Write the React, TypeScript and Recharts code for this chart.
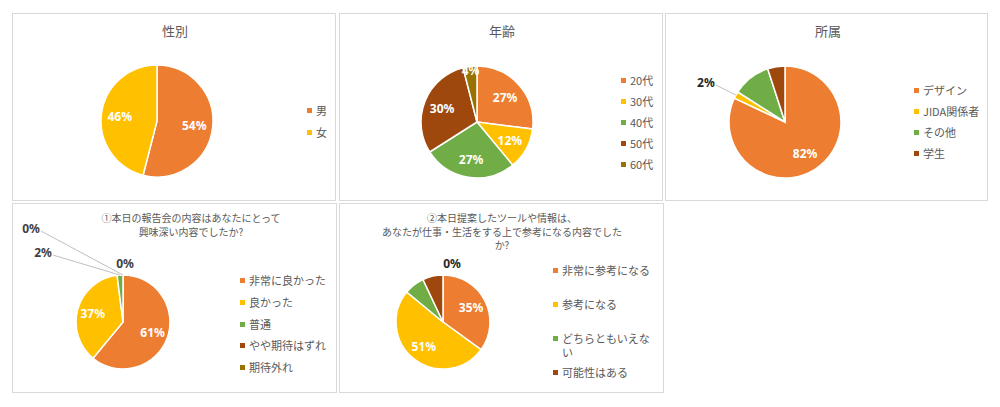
import { PieChart, Pie, Cell, Legend } from "recharts";

const COLORS = ["#ED7D31", "#FFC000", "#70AD47", "#9E480E", "#997300"];
const JP = "'Noto Sans CJK JP', 'Noto Sans', sans-serif";
const RADIAN = Math.PI / 180;

// 性別
const genderNames = ["男", "女"];
const genderValues = [54, 46];

// 年齢
const ageNames = ["20代", "30代", "40代", "50代", "60代"];
const ageValues = [27, 12, 27, 30, 4];

// 所属
const affiliationNames = ["デザイン", "JIDA関係者", "その他", "学生"];
const affiliationValues = [82, 2, 11, 5];

// ①
const interestNames = ["非常に良かった", "良かった", "普通", "やや期待はずれ", "期待外れ"];
const interestValues = [61, 37, 2, 0, 0];

// ② (last entry has no legend item)
const usefulNames = ["非常に参考になる", "参考になる", "どちらともいえない", "可能性はある", ""];
const usefulValues = [35, 51, 7, 7, 0];

type Outside = { dx: number; dy: number; line: boolean; color: string };
type LabelPos = "in" | "edge" | Outside | null;

const toRows = (names: string[], values: number[]) =>
  names.map((name, i) => ({ name, value: values[i] }));

function makeLabel(layout: LabelPos[]) {
  return (props: any) => {
    const { cx, cy, midAngle, outerRadius, value, index } = props;
    const pos = layout[index];
    if (!pos) return null;
    const text = `${value}%`;
    const cos = Math.cos(-midAngle * RADIAN);
    const sin = Math.sin(-midAngle * RADIAN);
    if (pos === "in" || pos === "edge") {
      const r = outerRadius * (pos === "in" ? 0.67 : 0.92);
      return (
        <text x={cx + r * cos} y={cy + r * sin} fill="#fff" textAnchor="middle"
          dominantBaseline="central" fontSize={12} fontWeight="bold" fontFamily="'Noto Sans', sans-serif">
          {text}
        </text>
      );
    }
    const ex = cx + outerRadius * cos;
    const ey = cy + outerRadius * sin;
    const tx = ex + pos.dx;
    const ty = ey + pos.dy;
    return (
      <g>
        {pos.line && <line x1={tx + 10} y1={ty + 3} x2={ex} y2={ey} stroke="#bfbfbf" strokeWidth={1} />}
        <text x={tx} y={ty} fill={pos.color} textAnchor="middle" dominantBaseline="central"
          fontSize={12} fontWeight="bold" fontFamily="'Noto Sans', sans-serif">
          {text}
        </text>
      </g>
    );
  };
}

function legendContent(names: string[], slot: number, textWidth?: number) {
  return () => (
    <div>
      {names.map((n, i) =>
        n ? (
          <div key={i} style={{ height: slot, display: "flex", alignItems: "flex-start" }}>
            <span style={{ width: 5, height: 5, background: COLORS[i], marginTop: 5, marginRight: 4, flexShrink: 0 }} />
            <span style={{ lineHeight: "14px", width: textWidth }}>{n}</span>
          </div>
        ) : null
      )}
    </div>
  );
}

interface PanelProps {
  left: number; top: number; width: number; height: number;
  title: string[]; titleSize: number; titleX: number; titleTop: number; titleLine: number;
  names: string[]; values: number[]; labels: LabelPos[];
  cx: number; cy: number; r: number;
  legendLeft: number; legendTop: number; slot: number; textWidth?: number;
}

function Panel(p: PanelProps) {
  return (
    <div style={{ position: "absolute", left: p.left, top: p.top, width: p.width, height: p.height,
      border: "1px solid #d9d9d9", boxSizing: "border-box", background: "#fff" }}>
      <div style={{ position: "absolute", left: p.titleX - 160, width: 320, top: p.titleTop, textAlign: "center",
        fontFamily: JP, fontSize: p.titleSize, lineHeight: `${p.titleLine}px`, color: "#595959", zIndex: 2 }}>
        {p.title.map((t, i) => <div key={i}>{t}</div>)}
      </div>
      <div style={{ position: "absolute", left: -1, top: -1 }}>
        <PieChart width={p.width} height={p.height} margin={{ top: 0, right: 0, bottom: 0, left: 0 }}>
          <Pie data={toRows(p.names, p.values)} dataKey="value" nameKey="name" cx={p.cx} cy={p.cy}
            outerRadius={p.r} startAngle={90} endAngle={-270} stroke="#fff" strokeWidth={1.5}
            label={makeLabel(p.labels)} labelLine={false} isAnimationActive={false}>
            {p.values.map((_, i) => <Cell key={i} fill={COLORS[i]} />)}
          </Pie>
          <Legend layout="vertical" align="center" verticalAlign="middle"
            content={legendContent(p.names, p.slot, p.textWidth)}
            wrapperStyle={{ left: p.legendLeft, top: p.legendTop, width: 110, fontFamily: JP, fontSize: 11, color: "#595959" }} />
        </PieChart>
      </div>
    </div>
  );
}

export default function App() {
  return (
    <div style={{ position: "absolute", left: 0, top: 0, width: 1000, height: 407, background: "#fff" }}>
      <Panel left={12} top={13} width={324} height={188} title={["性別"]} titleSize={13} titleX={162}
        titleTop={8} titleLine={18} names={genderNames} values={genderValues} labels={["in", "in"]}
        cx={145} cy={108} r={56} legendLeft={295} legendTop={90} slot={22} />
      <Panel left={339} top={13} width={324} height={188} title={["年齢"]} titleSize={13} titleX={162}
        titleTop={8} titleLine={18} names={ageNames} values={ageValues} labels={["in", "in", "in", "in", "edge"]}
        cx={138} cy={109} r={56} legendLeft={282} legendTop={60} slot={21} />
      <Panel left={665} top={13} width={323} height={188} title={["所属"]} titleSize={13} titleX={162}
        titleTop={8} titleLine={18} names={affiliationNames} values={affiliationValues}
        labels={["in", { dx: -30, dy: -13, line: true, color: "#262626" }, null, null]}
        cx={120} cy={109} r={56} legendLeft={249} legendTop={70} slot={21} />
      <Panel left={12} top={203} width={325} height={190}
        title={["①本日の報告会の内容はあなたにとって", "興味深い内容でしたか?"]} titleSize={10} titleX={178}
        titleTop={7} titleLine={13.5} names={interestNames} values={interestValues}
        labels={["in", "in",
          { dx: -77, dy: -23, line: true, color: "#404040" },
          { dx: -92, dy: -47, line: true, color: "#404040" },
          { dx: 2, dy: -12, line: false, color: "#404040" }]}
        cx={111} cy={119} r={47} legendLeft={228} legendTop={70} slot={21.75} />
      <Panel left={339} top={203} width={325} height={190}
        title={["②本日提案したツールや情報は、", "あなたが仕事・生活をする上で参考になる内容でした", "か?"]}
        titleSize={10} titleX={162} titleTop={7} titleLine={13.5} names={usefulNames} values={usefulValues}
        labels={["in", "in", null, null, { dx: 9, dy: -12, line: false, color: "#262626" }]}
        cx={104} cy={119} r={47} legendLeft={214} legendTop={60} slot={34} textWidth={90} />
    </div>
  );
}
